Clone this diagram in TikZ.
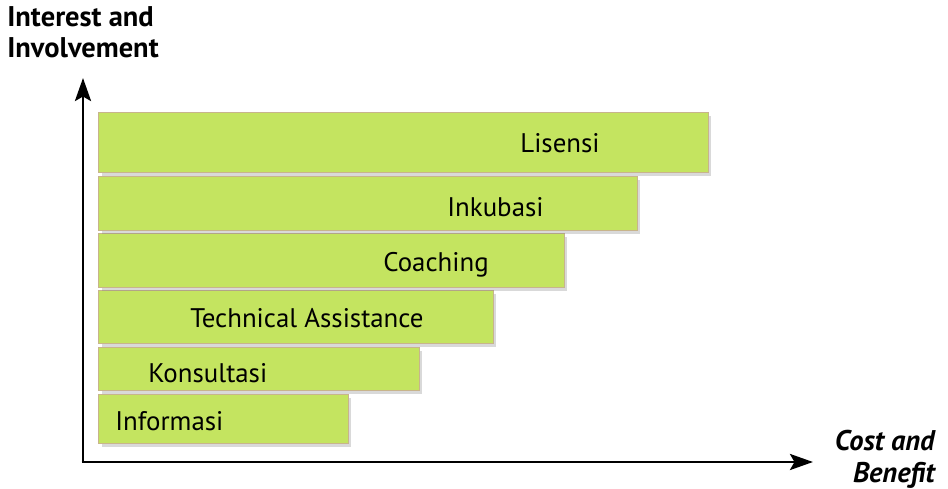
\documentclass[tikz,border=0pt]{standalone}
\usepackage{fontspec}
\setmainfont{PT Sans}
\usetikzlibrary{arrows.meta,shadows}

\definecolor{barfill}{RGB}{196,228,96}
\definecolor{baredge}{RGB}{200,180,140}

\tikzset{
  bar/.style={draw=baredge, line width=0.6pt, fill=barfill, anchor=north west,
    inner sep=0pt, drop shadow={shadow xshift=0.06cm, shadow yshift=-0.06cm, opacity=0.3}},
  barlabel/.style={anchor=west, inner sep=0pt, font=\fontsize{15.3}{17}\selectfont},
  axis/.style={line width=1.7pt, -{Stealth[length=0.46cm, width=0.32cm, inset=0.09cm]}},
  axislabel/.style={font=\fontsize{16.2}{18}\selectfont\bfseries, inner sep=0pt}
}

\begin{document}
\begin{tikzpicture}[x=0.02cm, y=-0.02cm]
    \useasboundingbox (0,0) rectangle (948,489);

    % bars, bottom to top
    \node[bar, minimum width=5.0cm, minimum height=0.98cm] at (98,394) (informasi) {};
    \node[bar, minimum width=6.42cm, minimum height=0.86cm] at (98,347) (konsultasi) {};
    \node[bar, minimum width=7.9cm, minimum height=1.06cm] at (98,290) (technical) {};
    \node[bar, minimum width=9.32cm, minimum height=1.08cm] at (98,233) (coaching) {};
    \node[bar, minimum width=10.78cm, minimum height=1.08cm] at (98,176) (inkubasi) {};
    \node[bar, minimum width=12.2cm, minimum height=1.2cm] at (98,112) (lisensi) {};

    \node[barlabel] at (115,421) (informasiL) {Informasi};
    \node[barlabel] at (148,373) (konsultasiL) {Konsultasi};
    \node[barlabel] at (190,318) (technicalL) {Technical Assistance};
    \node[barlabel] at (383,265) (coachingL) {Coaching};
    \node[barlabel] at (447,207) (inkubasiL) {Inkubasi};
    \node[barlabel] at (520,143) (lisensiL) {Lisensi};

    % axes
    \coordinate (O) at (83,462);
    \coordinate (Ytop) at (83,78);
    \coordinate (Xend) at (813,462);
    \draw[axis] (O) -- (Ytop);
    \draw[axis] ([xshift=-0.85pt]O) -- (Xend);

    \node[axislabel, anchor=north west, align=left] at (7,6) (ylab) {Interest and\\Involvement};
    \node[axislabel, anchor=north east, align=right, font=\fontsize{16.2}{18}\selectfont\bfseries\itshape] at (935,430) (xlab) {Cost and\\Benefit};
\end{tikzpicture}
\end{document}
